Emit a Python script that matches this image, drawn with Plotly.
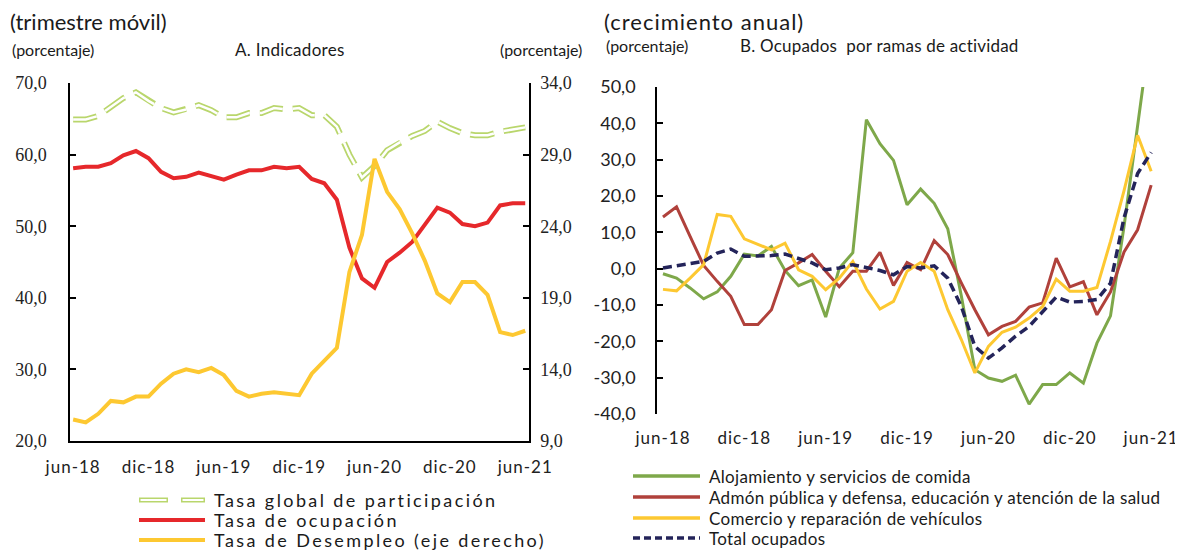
import plotly.graph_objects as go

# la página añade 8 px de margen al cuerpo: la figura se dibuja desde (8, 8)
OX, OY = 8, 8
W, H = 1183 - OX, 552 - OY

# ---- datos (jun-18 .. jun-21, 37 meses) ----
meses = list(range(37))
etiquetas_x = ["jun-18", "dic-18", "jun-19", "dic-19", "jun-20", "dic-20", "jun-21"]

# Panel A: indicadores (trimestre móvil, %)
tasa_participacion = [64.9, 64.9, 65.4, 66.7, 67.9, 68.7, 67.5, 66.5, 65.9, 66.3,
                      66.9, 66.2, 65.2, 65.2, 65.8, 65.8, 66.5, 66.3, 66.5, 65.5,
                      65.5, 63.9, 60.0, 56.8, 58.4, 60.6, 61.7, 62.6, 63.3, 64.6,
                      63.7, 63.0, 62.7, 62.7, 63.2, 63.5, 63.8]
tasa_ocupacion = [58.1, 58.3, 58.3, 58.8, 59.9, 60.5, 59.5, 57.6, 56.7, 56.9,
                  57.5, 57.0, 56.5, 57.2, 57.8, 57.8, 58.3, 58.1, 58.3, 56.6,
                  56.0, 53.7, 47.0, 42.7, 41.4, 45.0, 46.3, 47.8, 50.1, 52.6,
                  51.9, 50.3, 50.0, 50.5, 52.9, 53.2, 53.2]
tasa_desempleo = [10.5, 10.3, 10.9, 11.8, 11.7, 12.1, 12.1, 13.0, 13.7, 14.0,
                  13.8, 14.1, 13.6, 12.5, 12.1, 12.3, 12.4, 12.3, 12.2, 13.7,
                  14.6, 15.5, 20.8, 23.4, 28.7, 26.4, 25.2, 23.5, 21.6, 19.3,
                  18.7, 20.1, 20.1, 19.2, 16.6, 16.4, 16.7]

# Panel B: ocupados por ramas (crecimiento anual, %)
alojamiento = [-1.4, -2.6, -5.3, -8.3, -6.4, -2.1, 4.0, 3.5, 6.1, -0.5,
               -4.7, -3.1, -13.3, 0.1, 4.4, 41.0, 34.4, 29.8, 17.6, 21.9,
               18.0, 11.0, -7.5, -27.8, -30.1, -31.0, -29.3, -37.3, -31.9, -31.9,
               -28.7, -31.5, -20.5, -13.0, 11.7, 39.4, 67.0]
admon_publica = [14.2, 17.0, 8.9, 0.9, -3.5, -7.6, -15.4, -15.4, -11.3, -0.5,
                 1.6, 3.9, -0.7, -5.0, -0.7, -0.7, 4.5, -4.6, 1.7, -0.3,
                 7.7, 3.9, -3.9, -11.3, -18.2, -15.9, -14.5, -10.6, -9.4, 2.9,
                 -5.0, -3.6, -12.7, -6.4, 4.6, 10.7, 23.0]
comercio = [-5.7, -6.1, -2.6, 1.1, 14.9, 14.4, 8.2, 6.6, 5.2, 7.0,
            -0.3, -2.1, -5.8, -2.6, 2.0, -5.6, -11.1, -9.0, -0.7, 1.7,
            -0.7, -11.3, -19.5, -28.7, -21.4, -17.5, -16.1, -13.6, -10.4, -2.9,
            -6.2, -6.2, -5.2, 7.5, 21.5, 36.7, 26.8]
total_ocupados = [0.2, 0.8, 1.3, 2.0, 4.3, 5.4, 3.4, 3.4, 3.6, 4.0,
                  2.9, 1.6, -0.3, 0.2, 1.1, 0.2, -0.5, -1.7, 0.6, 0.2,
                  0.8, -2.6, -10.4, -21.4, -24.6, -21.8, -18.6, -15.9, -11.7, -7.8,
                  -9.2, -9.0, -8.5, -4.0, 14.0, 26.2, 32.0]

ticks_izq = [20, 30, 40, 50, 60, 70]
ticks_der = [9, 14, 19, 24, 29, 34]
ticks_b = [-40, -30, -20, -10, 0, 10, 20, 30, 40, 50]

VERDE_CLARO = "#b9d66c"
ROJO = "#e6282b"
AMARILLO = "#fdc831"
VERDE = "#7ea84a"
LADRILLO = "#b0413b"
AZUL = "#24245a"

SANS = "Lato"
SERIF = "Liberation Serif"


def px(x, y):
    """pixel de pantalla -> coordenadas paper"""
    return (x - OX) / W, 1 - (y - OY) / H


def dom_x(a, b):
    return [px(a, 0)[0], px(b, 0)[0]]


def dom_y(top, bottom):
    return [px(0, bottom)[1], px(0, top)[1]]


def fmt(v):
    return f"{v:.1f}".replace(".", ",")


def espaciado(txt, ls):
    # letras algo separadas, como en el original
    return f'<span style="letter-spacing:{ls}px">{txt}</span>'


fig = go.Figure()

# ---- panel A ----
fig.add_trace(go.Scatter(x=meses, y=tasa_participacion, mode="lines", xaxis="x", yaxis="y",
                         line=dict(color=VERDE_CLARO, width=6, dash="24px,10px"), showlegend=False))
fig.add_trace(go.Scatter(x=meses, y=tasa_participacion, mode="lines", xaxis="x", yaxis="y",
                         line=dict(color="white", width=2.5, dash="24px,10px"), showlegend=False))
fig.add_trace(go.Scatter(x=meses, y=tasa_ocupacion, mode="lines", xaxis="x", yaxis="y",
                         line=dict(color=ROJO, width=4), showlegend=False))
fig.add_trace(go.Scatter(x=meses, y=tasa_desempleo, mode="lines", xaxis="x", yaxis="y2",
                         line=dict(color=AMARILLO, width=4), showlegend=False))

# ---- panel B ----
for serie, color in [(alojamiento, VERDE), (admon_publica, LADRILLO), (comercio, AMARILLO)]:
    fig.add_trace(go.Scatter(x=meses, y=serie, mode="lines", xaxis="x2", yaxis="y3",
                             line=dict(color=color, width=3), showlegend=False))
fig.add_trace(go.Scatter(x=meses, y=total_ocupados, mode="lines", xaxis="x2", yaxis="y3",
                         line=dict(color=AZUL, width=3.5, dash="9px,5px"), showlegend=False))

eje = dict(showgrid=False, zeroline=False, linecolor="black", linewidth=1.5,
           tickcolor="black", tickwidth=1.5, automargin=False)
pos_ticks = [m - 0.35 for m in range(6, 37, 6)]
etiq_x = [espaciado(t, 1) for t in etiquetas_x]

fig.update_layout(
    width=W, height=H, margin=dict(l=0, r=0, t=0, b=0, autoexpand=False),
    paper_bgcolor="white", plot_bgcolor="white", showlegend=False,
    xaxis=dict(eje, domain=dom_x(70, 529), range=[-0.25, 36.3], anchor="y",
               tickvals=meses[::6], ticktext=etiq_x, ticks="", showline=True,
               ticklabelstandoff=10, tickfont=dict(family=SANS, size=17, color="#222")),
    xaxis3=dict(eje, overlaying="x", anchor="y", range=[-0.25, 36.3], tickvals=pos_ticks,
                ticks="inside", ticklen=6, showticklabels=False, showline=False),
    yaxis=dict(eje, domain=dom_y(83, 441), range=[20, 70], anchor="x",
               tickvals=ticks_izq, ticktext=[fmt(v) for v in ticks_izq],
               ticks="inside", ticklen=6, showline=True, ticklabelstandoff=18,
               tickfont=dict(family=SERIF, size=18, color="#222")),
    yaxis2=dict(eje, overlaying="y", side="right", anchor="x", range=[9, 34],
                tickvals=ticks_der, ticktext=[fmt(v) for v in ticks_der],
                ticks="inside", ticklen=6, showline=True, ticklabelstandoff=6,
                tickfont=dict(family=SERIF, size=18, color="#222")),
    xaxis2=dict(eje, domain=dom_x(657, 1157), range=[-0.44, 36.43], anchor="y3",
                tickvals=meses[::6], ticktext=etiq_x, ticks="", showline=False,
                ticklabelstandoff=12, tickfont=dict(family=SANS, size=17, color="#222")),
    xaxis4=dict(eje, overlaying="x2", anchor="free", position=px(0, 269)[1],
                range=[-0.44, 36.43], tickvals=pos_ticks, ticks="inside", ticklen=6,
                showticklabels=False, showline=True),
    yaxis3=dict(eje, domain=dom_y(87, 414), range=[-40, 50], anchor="x2",
                tickvals=ticks_b, ticktext=[fmt(v) for v in ticks_b],
                ticks="inside", ticklen=6, showline=True, ticklabelstandoff=16,
                tickfont=dict(family=SANS, size=18, color="#222")),
)

# ---- textos ----
textos = [
    ("(trimestre móvil)", 8, 21, 22, "left", 0),
    ("(porcentaje)", 10, 50, 16, "left", 0),
    ("A. Indicadores", 290, 50, 17, "center", 0.3),
    ("(porcentaje)", 584, 50, 16, "right", 0),
    ("(crecimiento anual)", 602, 21, 22, "left", 1),
    ("(porcentaje)", 604, 46, 16, "left", 0),
    ("B. Ocupados  por ramas de actividad", 738, 46, 17, "left", 0.2),
]
for txt, x, y, size, anc, ls in textos:
    xp, yp = px(x, y)
    fig.add_annotation(text=espaciado(txt, ls), x=xp, y=yp, xref="paper", yref="paper",
                       showarrow=False, xanchor=anc, yanchor="middle",
                       font=dict(family=SANS, size=size, color="#1a1a1a"))

# ---- leyendas ----
def linea(x0, x1, y, color, width, dash="solid"):
    a = px(x0, y)
    b = px(x1, y)
    fig.add_shape(type="line", xref="paper", yref="paper", x0=a[0], y0=a[1], x1=b[0], y1=b[1],
                  line=dict(color=color, width=width, dash=dash))


def texto_leyenda(txt, x, y, size, ls):
    xp, yp = px(x, y)
    fig.add_annotation(text=espaciado(txt, ls), x=xp, y=yp, xref="paper", yref="paper",
                       showarrow=False, xanchor="left", yanchor="middle",
                       font=dict(family=SANS, size=size, color="#1a1a1a"))


for a, b in [(139, 168), (181, 205)]:
    linea(a, b, 500, VERDE_CLARO, 5)
    linea(a + 1.5, b - 1.5, 500, "white", 2)
texto_leyenda("Tasa global de participación", 212, 500, 18, 2.4)
linea(139, 205, 520, ROJO, 4)
texto_leyenda("Tasa de ocupación", 212, 520, 18, 2.4)
linea(139, 205, 540, AMARILLO, 4)
texto_leyenda("Tasa de Desempleo (eje derecho)", 212, 540, 18, 2.4)

leyenda_b = [
    ("Alojamiento y servicios de comida", VERDE, "solid", 476),
    ("Admón pública y defensa, educación y atención de la salud", LADRILLO, "solid", 497),
    ("Comercio y reparación de vehículos", AMARILLO, "solid", 518),
    ("Total ocupados", AZUL, "7px,4px", 538),
]
for txt, color, dash, y in leyenda_b:
    linea(633, 700, y, color, 3.5, dash)
    texto_leyenda(txt, 707, y, 17, 0.3)

fig.write_html("out.html")
